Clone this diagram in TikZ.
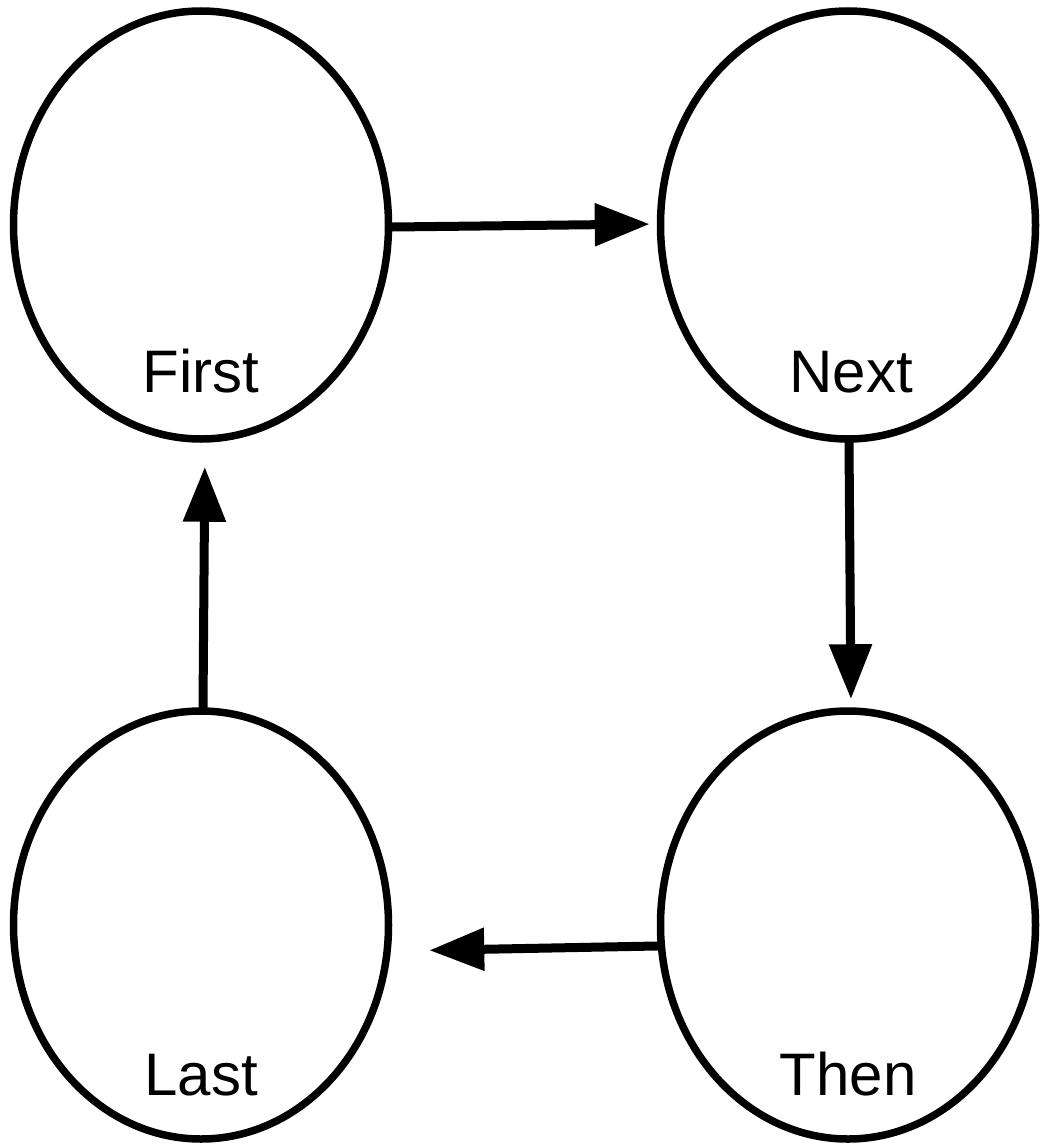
\documentclass[tikz,border=0pt]{standalone}
\usepackage{fontspec}
\setmainfont{Liberation Sans}
\usetikzlibrary{arrows.meta,calc,shapes.geometric}
\begin{document}
\begin{tikzpicture}[x=1pt,y=-1pt,
  oval/.style={draw=black,line width=7.5pt,ellipse,minimum width=375pt,minimum height=428pt,inner sep=0pt},
  lbl/.style={font=\fontsize{60}{72}\selectfont,text=black,inner sep=0pt,anchor=base},
  conn/.style={line width=9pt,-{Triangle[length=55pt,width=41pt]}}]
\useasboundingbox (0,0) rectangle (1039,1148);
\node[oval] (First) at (201,225) {};
\node[oval] (Next) at (848,225) {};
\node[oval] (Last) at (201,925) {};
\node[oval] (Then) at (848,925) {};
\node[lbl] (tFirst) at (201,392) {First};
\node[lbl] (tNext) at (851,392) {Next};
\node[lbl] (tLast) at (201,1095) {Last};
\node[lbl] (tThen) at (848,1095) {Then};
\draw[conn,shorten <=-4pt,shorten >=7pt] ($(First.east)+(0,2)$) -- ($(Next.west)+(0,-1)$);
\draw[conn,shorten <=-3pt,shorten >=8pt] ($(Next.south)+(1,0)$) -- ($(Then.north)+(3,0)$);
\draw[conn,shorten <=-4pt,shorten >=37pt] ($(Then.west)+(0,21)$) -- ($(Last.east)+(0,26)$);
\draw[conn,shorten <=-3pt,shorten >=24pt] ($(Last.north)+(2,0)$) -- ($(First.south)+(4,0)$);
\end{tikzpicture}
\end{document}
